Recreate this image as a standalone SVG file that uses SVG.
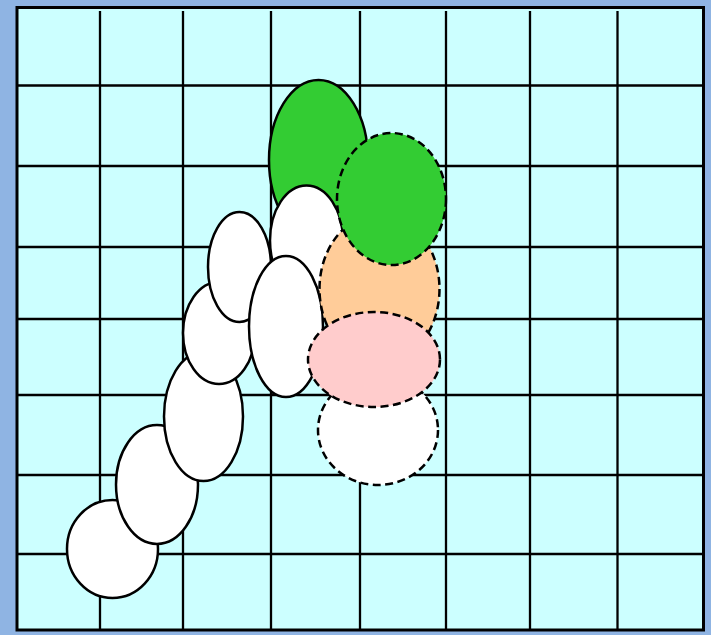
<svg xmlns="http://www.w3.org/2000/svg" width="711" height="635" viewBox="0 0 711 635">
<style>
.g{stroke:#000;stroke-width:2.3;fill:none}
.s{stroke:#000;stroke-width:2.5}
.d{stroke:#000;stroke-width:2.5;stroke-dasharray:8 4.5}
.w{fill:#fff}
</style>
<rect x="0" y="0" width="711" height="635" fill="#8fb4e3"/>
<rect x="17" y="7.5" width="686.5" height="622.5" fill="#ccffff" stroke="#000" stroke-width="3"/>
<g id="grid" class="g">
<path d="M100 11V630M183 11V630M271 11V630M360 11V630M446 11V630M530 11V630M617.5 11V630"/>
<path d="M18 85.5H703M18 166H703M18 247H703M18 319H703M18 395H703M18 475H703M18 554H703"/>
</g>
<g id="n1"><ellipse class="s w" cx="112.5" cy="549" rx="45.5" ry="49"/></g>
<g id="n2"><ellipse class="s w" cx="157" cy="484.5" rx="41" ry="59.5"/></g>
<g id="n3"><ellipse class="s w" cx="203.5" cy="416.5" rx="39.5" ry="64.5"/></g>
<g id="n4"><ellipse class="s w" cx="219" cy="333" rx="36" ry="51"/></g>
<g id="n5"><ellipse class="s w" cx="239.5" cy="267" rx="31.5" ry="55"/></g>
<g id="n8"><ellipse class="s" fill="#33cc33" cx="318.5" cy="160" rx="49.5" ry="80"/></g>
<g id="n6"><ellipse class="s w" cx="306.5" cy="240.5" rx="36.5" ry="55"/></g>
<g id="n7"><ellipse class="s w" cx="286" cy="326.5" rx="37" ry="70.5"/></g>
<g id="n9"><ellipse class="d" fill="#ffcc99" cx="379.5" cy="289" rx="60" ry="75"/></g>
<g id="n10"><ellipse class="d" fill="#33cc33" cx="391.5" cy="199" rx="54.5" ry="66"/></g>
<g id="n12"><ellipse class="d w" cx="378" cy="430" rx="60" ry="55"/></g>
<g id="n11"><ellipse class="d" fill="#ffcccc" cx="374" cy="359.5" rx="66" ry="47.5"/></g>
<g id="connectors"></g>
</svg>
